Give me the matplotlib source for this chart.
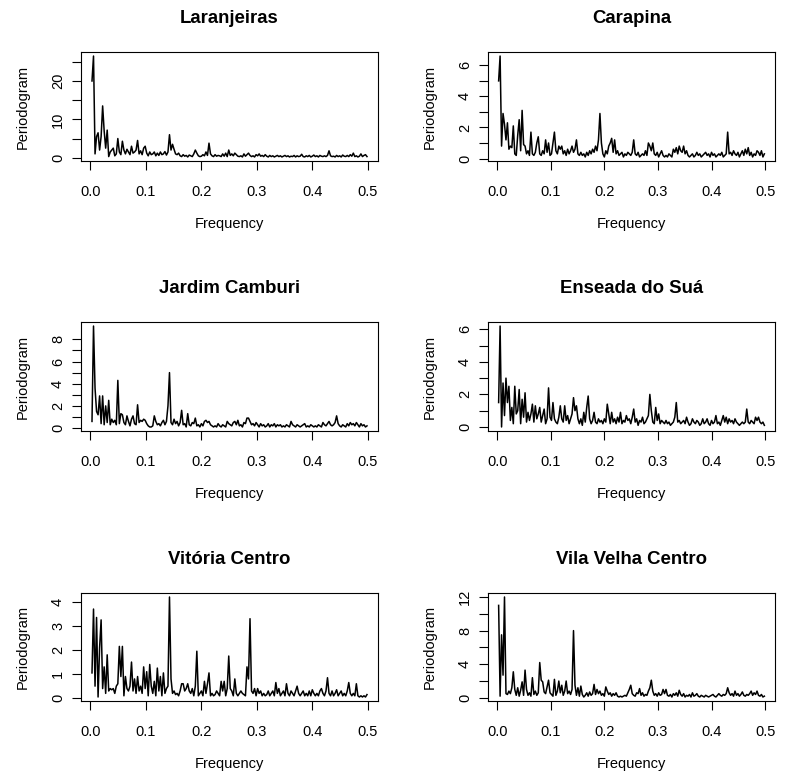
import matplotlib
matplotlib.use("Agg")
import matplotlib.pyplot as plt
import numpy as np

plt.rcParams['font.family'] = ['Liberation Sans', 'DejaVu Sans']

# periodogram ordinates (daily series, n = 365)
n_days = 365

laranjeiras = [
    20, 26.5, 1.0, 5.5, 6.5, 2.0, 5.5, 13.5, 7.0, 2.5, 7.2, 0.3, 1.5, 2.0,
    2.5, 0.5, 1.0, 5.0, 1.5, 0.8, 4.3, 2.0, 1.0, 2.2, 1.5, 0.8, 3.0, 1.2,
    1.5, 2.0, 4.5, 1.0, 1.8, 0.8, 2.5, 3.0, 1.2, 0.5, 1.5, 0.8, 1.0, 1.5,
    0.5, 1.2, 0.6, 1.5, 0.8, 1.0, 1.6, 0.7, 1.5, 6.0, 2.0, 3.5, 2.2, 1.0,
    0.8, 1.2, 0.5, 0.3, 0.8, 0.4, 0.6, 0.2, 0.7, 0.5, 0.3, 1.0, 2.0, 1.2,
    0.5, 0.3, 0.4, 0.8, 0.5, 1.5, 0.6, 3.8, 1.0, 0.5, 0.3, 0.8, 0.4, 0.6,
    0.5, 0.3, 1.0, 0.4, 1.2, 0.3, 2.0, 0.6, 1.0, 0.5, 1.2, 0.8, 0.4, 0.3,
    0.5, 0.2, 1.0, 0.4, 0.8, 1.2, 0.6, 0.3, 0.5, 0.2, 0.8, 0.5, 1.0, 0.4,
    0.6, 0.3, 0.8, 0.4, 0.2, 0.6, 0.3, 0.5, 0.2, 0.4, 0.6, 0.3, 0.5, 0.2,
    0.4, 0.6, 0.3, 0.5, 0.2, 0.4, 0.3, 0.6, 0.2, 0.5, 0.3, 0.4, 0.9, 0.3,
    0.2, 0.5, 0.3, 0.6, 0.2, 0.4, 0.7, 0.3, 0.5, 0.2, 0.6, 0.4, 0.3, 0.5,
    0.3, 0.6, 1.8, 0.5, 0.3, 0.4, 0.2, 0.6, 0.3, 0.5, 0.2, 0.7, 0.4, 0.3,
    0.6, 0.3, 0.8, 0.4, 1.2, 0.3, 0.5, 0.2, 0.4, 1.0, 0.3, 0.6, 0.8, 0.3,
]

carapina = [
    5.0, 6.6, 0.8, 2.9, 2.2, 1.2, 2.3, 0.6, 0.8, 0.7, 2.1, 0.3, 0.2, 1.5,
    2.5, 0.5, 3.1, 0.9, 0.8, 0.3, 0.5, 0.2, 1.7, 0.3, 0.2, 0.4, 1.0, 1.4,
    0.3, 0.2, 0.5, 0.3, 1.2, 0.4, 1.0, 0.2, 0.3, 1.0, 1.7, 0.5, 0.3, 0.8,
    0.6, 0.8, 0.3, 0.5, 0.2, 0.6, 0.3, 0.5, 0.8, 0.4, 0.6, 1.2, 0.3, 0.2,
    0.4, 0.2, 0.3, 0.1, 0.4, 0.2, 0.5, 0.3, 0.6, 0.4, 0.8, 0.5, 1.2, 2.9,
    1.0, 0.3, 0.1, 0.5, 0.3, 0.8, 1.0, 1.3, 0.4, 1.2, 0.3, 0.5, 0.2, 0.3,
    0.4, 0.1, 0.3, 0.2, 0.4, 0.3, 0.2, 0.4, 1.2, 0.3, 0.2, 0.4, 0.1, 0.2,
    0.3, 0.2, 0.5, 0.2, 1.0, 0.8, 0.5, 1.0, 0.3, 0.2, 0.4, 0.1, 0.3, 0.5,
    0.2, 0.1, 0.2, 0.1, 0.3, 0.2, 0.1, 0.6, 0.4, 0.7, 0.3, 0.8, 0.5, 0.4,
    0.8, 0.3, 0.5, 0.2, 0.1, 0.2, 0.3, 0.1, 0.2, 0.4, 0.2, 0.3, 0.1, 0.2,
    0.3, 0.4, 0.2, 0.3, 0.1, 0.4, 0.2, 0.3, 0.1, 0.2, 0.3, 0.2, 0.4, 0.1,
    0.2, 0.3, 1.7, 0.3, 0.4, 0.2, 0.5, 0.3, 0.2, 0.4, 0.1, 0.3, 0.5, 0.2,
    0.6, 0.3, 0.7, 0.2, 0.4, 0.1, 0.3, 0.2, 0.5, 0.4, 0.2, 0.5, 0.1, 0.3,
]

jardim_camburi = [
    0.6, 9.2, 3.6, 1.5, 1.2, 2.9, 0.4, 2.9, 0.3, 2.0, 0.5, 2.5, 0.3, 0.8,
    0.5, 0.7, 0.3, 4.3, 0.4, 1.3, 1.2, 0.5, 0.3, 1.1, 0.6, 0.2, 0.8, 1.1,
    0.4, 0.3, 2.1, 0.5, 0.7, 0.6, 0.8, 0.7, 0.4, 0.2, 0.1, 0.1, 0.2, 1.1,
    0.6, 0.3, 0.4, 0.2, 0.5, 0.7, 0.3, 0.6, 2.0, 5.0, 0.5, 0.3, 0.8, 0.4,
    0.6, 0.2, 0.5, 1.6, 0.3, 0.4, 0.1, 1.3, 0.3, 0.2, 0.5, 0.4, 0.9, 0.2,
    0.3, 0.1, 0.4, 0.2, 0.6, 0.7, 0.5, 0.6, 0.3, 0.2, 0.1, 0.2, 0.1, 0.4,
    0.2, 0.1, 0.3, 0.2, 0.1, 0.6, 0.4, 0.3, 0.2, 0.5, 0.6, 0.3, 0.7, 0.2,
    0.3, 0.1, 0.5, 0.4, 0.9, 0.9, 0.6, 0.3, 0.4, 0.2, 0.5, 0.3, 0.1, 0.4,
    0.2, 0.3, 0.1, 0.2, 0.4, 0.1, 0.3, 0.2, 0.4, 0.1, 0.3, 0.2, 0.3, 0.1,
    0.2, 0.1, 0.3, 0.2, 0.1, 0.6, 0.3, 0.2, 0.1, 0.3, 0.2, 0.1, 0.2, 0.3,
    0.4, 0.1, 0.2, 0.1, 0.3, 0.2, 0.1, 0.2, 0.1, 0.3, 0.2, 0.1, 0.5, 0.3,
    0.2, 0.4, 0.6, 0.3, 0.2, 0.3, 0.5, 1.1, 0.4, 0.2, 0.1, 0.3, 0.2, 0.1,
    0.4, 0.2, 0.5, 0.3, 0.4, 0.2, 0.5, 0.3, 0.1, 0.4, 0.2, 0.3, 0.1, 0.2,
]

enseada_do_sua = [
    1.5, 6.2, 0.0, 2.7, 0.7, 3.0, 1.5, 2.5, 0.4, 1.2, 0.2, 2.5, 0.8, 1.0,
    2.3, 0.2, 1.7, 0.6, 2.1, 0.3, 0.9, 0.4, 0.8, 1.4, 0.3, 1.3, 0.5, 0.8,
    1.2, 0.3, 0.7, 1.1, 0.2, 0.5, 2.4, 0.6, 0.4, 1.5, 0.5, 0.3, 0.2, 0.6,
    1.3, 0.5, 0.3, 1.3, 0.4, 0.7, 0.2, 0.5, 0.8, 1.8, 1.0, 1.3, 0.5, 0.2,
    0.5, 0.1, 0.9, 0.3, 1.2, 1.9, 0.5, 0.2, 0.4, 0.9, 0.3, 0.2, 0.5, 0.3,
    0.4, 0.2, 0.5, 0.3, 1.4, 0.8, 0.2, 0.9, 0.3, 0.5, 0.2, 0.6, 0.3, 0.9,
    0.2, 0.4, 0.3, 0.7, 0.4, 0.5, 0.2, 0.6, 1.1, 0.3, 0.5, 0.1, 0.4, 0.3,
    0.6, 0.2, 0.3, 0.5, 0.7, 2.0, 1.0, 0.3, 0.2, 1.2, 0.4, 0.8, 0.2, 0.4,
    0.3, 0.2, 0.4, 0.2, 0.3, 0.1, 0.2, 0.3, 0.6, 1.5, 0.3, 0.4, 0.2, 0.3,
    0.4, 0.2, 0.6, 0.3, 0.1, 0.2, 0.5, 0.3, 0.2, 0.4, 0.3, 0.1, 0.2, 0.5,
    0.2, 0.3, 0.5, 0.2, 0.1, 0.4, 0.2, 0.3, 0.7, 0.2, 0.3, 0.1, 0.4, 0.7,
    0.3, 0.6, 0.2, 0.5, 0.3, 0.4, 0.2, 0.5, 0.3, 0.2, 0.1, 0.2, 0.3, 0.2,
    0.3, 1.1, 0.3, 0.2, 0.4, 0.3, 0.2, 0.6, 0.4, 0.6, 0.3, 0.2, 0.3, 0.1,
]

vitoria_centro = [
    1.05, 3.7, 0.5, 3.35, 0.05, 2.1, 3.25, 0.4, 1.3, 0.2, 1.8, 0.3, 0.4, 0.35,
    0.4, 0.2, 0.5, 0.6, 2.15, 0.9, 2.15, 0.1, 0.9, 0.4, 0.3, 0.5, 1.5, 0.3,
    0.8, 0.2, 0.9, 0.3, 0.5, 0.2, 1.3, 0.4, 1.1, 0.1, 1.4, 0.5, 0.2, 0.7,
    0.1, 1.25, 0.3, 0.9, 0.1, 1.05, 0.2, 0.4, 0.5, 4.2, 0.8, 0.2, 0.3, 0.15,
    0.2, 0.1, 0.3, 0.6, 0.6, 0.3, 0.4, 0.6, 0.3, 0.2, 0.4, 0.1, 0.5, 1.95,
    0.1, 0.2, 0.3, 0.1, 0.7, 0.2, 0.6, 1.05, 0.1, 0.2, 0.1, 0.15, 0.3, 0.2,
    0.1, 0.7, 0.3, 0.7, 0.1, 0.4, 1.75, 0.4, 0.3, 0.1, 0.8, 0.2, 0.1, 0.2,
    0.3, 0.2, 0.15, 0.1, 1.3, 0.8, 3.3, 0.3, 0.2, 0.4, 0.1, 0.4, 0.2, 0.3,
    0.1, 0.2, 0.1, 0.15, 0.3, 0.1, 0.2, 0.3, 0.1, 0.65, 0.2, 0.4, 0.1, 0.2,
    0.3, 0.1, 0.6, 0.2, 0.1, 0.3, 0.2, 0.1, 0.3, 0.5, 0.2, 0.1, 0.2, 0.3,
    0.1, 0.2, 0.1, 0.3, 0.1, 0.35, 0.2, 0.1, 0.2, 0.1, 0.3, 0.4, 0.2, 0.1,
    0.3, 0.85, 0.2, 0.1, 0.3, 0.1, 0.2, 0.35, 0.1, 0.2, 0.3, 0.1, 0.2, 0.1,
    0.3, 0.65, 0.2, 0.1, 0.2, 0.1, 0.6, 0.1, 0.05, 0.1, 0.05, 0.1, 0.05, 0.15,
]

vila_velha_centro = [
    11.0, 0.2, 7.5, 2.7, 12.0, 0.5, 0.4, 0.8, 0.5, 1.2, 3.1, 1.0, 0.3, 1.2,
    0.2, 0.9, 1.9, 0.3, 3.3, 1.0, 0.3, 0.6, 0.2, 2.4, 0.4, 0.8, 0.3, 0.6,
    4.2, 2.1, 1.9, 0.7, 0.5, 1.3, 2.1, 0.6, 0.4, 0.2, 2.2, 0.3, 0.8, 2.0,
    0.6, 1.5, 0.3, 0.8, 2.0, 0.5, 0.8, 0.4, 1.0, 8.0, 1.5, 0.3, 1.2, 0.2,
    1.4, 0.4, 0.1, 0.3, 0.6, 0.2, 0.7, 0.3, 0.5, 1.6, 0.4, 1.0, 0.5, 0.8,
    0.3, 0.5, 0.2, 1.3, 0.8, 0.4, 0.6, 0.2, 0.5, 0.3, 0.6, 0.2, 0.1, 0.2,
    0.1, 0.2, 0.3, 0.2, 0.6, 1.0, 1.5, 0.5, 0.3, 0.2, 0.6, 0.5, 1.1, 0.3,
    0.6, 0.2, 0.4, 0.3, 0.8, 1.2, 2.1, 0.8, 0.3, 0.5, 0.2, 0.6, 0.3, 0.4,
    1.0, 0.5, 1.0, 0.3, 0.2, 0.4, 0.1, 0.5, 0.3, 0.6, 0.2, 0.9, 0.4, 0.2,
    0.5, 0.1, 0.3, 0.2, 0.4, 0.1, 0.6, 0.2, 0.3, 0.5, 0.2, 0.1, 0.3, 0.2,
    0.1, 0.3, 0.2, 0.1, 0.2, 0.3, 0.4, 0.2, 0.1, 0.3, 0.5, 0.3, 0.2, 0.4,
    0.3, 0.5, 1.2, 0.6, 0.3, 0.5, 0.2, 0.8, 0.3, 0.5, 0.2, 0.4, 0.7, 0.3,
    0.2, 0.4, 0.3, 0.5, 0.8, 0.3, 0.6, 0.4, 0.8, 0.3, 0.2, 0.4, 0.1, 0.2,
]

titles = ["Laranjeiras", "Carapina", "Jardim Camburi",
          "Enseada do Suá", "Vitória Centro", "Vila Velha Centro"]
series = [laranjeiras, carapina, jardim_camburi,
          enseada_do_sua, vitoria_centro, vila_velha_centro]

# y ticks drawn by R, and which of them got a label
y_ticks = [[0, 5, 10, 15, 20, 25], [0, 1, 2, 3, 4, 5, 6], list(range(0, 9)),
           [0, 1, 2, 3, 4, 5, 6], [0, 1, 2, 3, 4], [0, 2, 4, 6, 8, 10, 12]]
y_labels = [[0, 10, 20], [0, 2, 4, 6], [0, 2, 4, 6, 8],
            [0, 2, 4, 6], [0, 1, 2, 3, 4], [0, 4, 8, 12]]
x_ticks = [0.0, 0.1, 0.2, 0.3, 0.4, 0.5]

W, H = 786, 774
fig = plt.figure(figsize=(W / 100, H / 100), dpi=100)

# plot boxes in pixels: (left, right) per column, (top, bottom) per row
cols = [(81, 378), (488, 775)]
rows = [(52, 161), (322, 431), (593, 701)]

for i, (title, p) in enumerate(zip(titles, series)):
    l, r = cols[i % 2]
    t, b = rows[i // 2]
    ax = fig.add_axes([l / W, 1 - b / H, (r - l) / W, (b - t) / H])

    freq = np.arange(1, len(p) + 1) / n_days
    ax.plot(freq, p, color='black', lw=1.1)
    ax.margins(x=0.04, y=0.04)

    ax.set_xticks(x_ticks)
    ax.set_xticklabels([f"{v:.1f}" for v in x_ticks])
    ax.set_yticks(y_ticks[i])
    ax.set_yticklabels([str(v) if v in y_labels[i] else "" for v in y_ticks[i]],
                       rotation=90, va='center')
    ax.tick_params(length=6.5, width=0.8, labelsize=10.5)
    ax.tick_params(axis='x', pad=11)
    ax.tick_params(axis='y', pad=5)
    for s in ax.spines.values():
        s.set_linewidth(0.8)

    ax.set_title(title, fontsize=13.4, fontweight='bold', pad=21)
    ax.set_xlabel("Frequency", fontsize=10.5, labelpad=13)
    ax.set_ylabel("Periodogram", fontsize=10.5, labelpad=15)

fig.savefig("out.png", dpi=100)
